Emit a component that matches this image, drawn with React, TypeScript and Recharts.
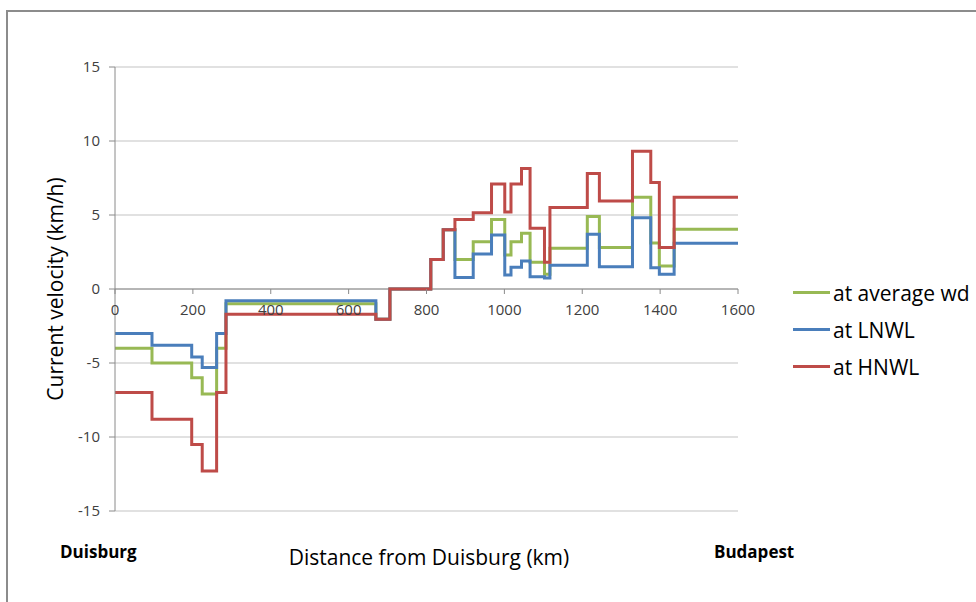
import { CartesianGrid, Legend, Line, LineChart, ReferenceDot, ReferenceLine, XAxis, YAxis } from 'recharts';

// step breakpoints along the river (km from Duisburg)
const KM = [0, 95, 197, 224, 261, 285, 670, 706, 811, 843, 873, 920, 967, 1001, 1017, 1044, 1066, 1103, 1117, 1213, 1244, 1329, 1376, 1398, 1436, 1600];
const AVG_WD = [-4, -5, -6, -7.1, -4, -1.0, -2.05, 0, 2, 4, 2.0, 3.2, 4.7, 2.3, 3.2, 3.76, 1.8, 1.0, 2.75, 4.9, 2.8, 6.2, 3.1, 1.55, 4.03, 4.03];
const LNWL = [-3, -3.8, -4.6, -5.3, -3.0, -0.8, -2.05, 0, 2, 4, 0.77, 2.37, 3.65, 0.95, 1.47, 1.9, 0.83, 0.75, 1.6, 3.7, 1.5, 4.82, 1.44, 1.0, 3.09, 3.09];
const HNWL = [-7, -8.8, -10.5, -12.3, -7, -1.7, -2.05, 0, 2, 4, 4.7, 5.15, 7.1, 5.2, 7.1, 8.15, 4.1, 1.8, 5.5, 7.8, 5.95, 9.3, 7.2, 2.8, 6.2, 6.2];

const X_TICKS = [0, 200, 400, 600, 800, 1000, 1200, 1400, 1600];
const Y_TICKS = [-15, -10, -5, 0, 5, 10, 15];

const SERIES = [
  { key: 'avg', name: 'at average wd', color: '#98B954' },
  { key: 'lnwl', name: 'at LNWL', color: '#4A7EBB' },
  { key: 'hnwl', name: 'at HNWL', color: '#BE4B48' },
];

const data = KM.map((km, i) => ({ km, avg: AVG_WD[i], lnwl: LNWL[i], hnwl: HNWL[i] }));

const W = 976;
const H = 602;
const PLOT_TOP = 67;
const PLOT_H = 444;
const Y_AXIS_W = 60;
const FONT = '"Open Sans", sans-serif';
const AXIS = '#8a8a8a';
const GRID = '#c3c3c3';

// the x axis crosses at y = 0, so its ticks sit on the zero line
function ZeroTick({ cx, cy, value }: any) {
  return (
    <g>
      <line x1={cx} x2={cx} y1={cy} y2={cy + 5} stroke={AXIS} />
      <text x={cx} y={cy + 26} textAnchor="middle" fontSize={15} fill="#404040" fontFamily={FONT}>
        {value}
      </text>
    </g>
  );
}

function LegendBox() {
  return (
    <div style={{ fontFamily: FONT, fontSize: 21, color: '#000' }}>
      {SERIES.map((s) => (
        <div key={s.key} style={{ display: 'flex', alignItems: 'center', height: 37 }}>
          <span style={{ width: 37, height: 3, background: s.color, marginRight: 3 }} />
          <span>{s.name}</span>
        </div>
      ))}
    </div>
  );
}

export default function App() {
  return (
    <div style={{ position: 'relative', width: W, height: H, overflow: 'hidden', background: '#fff' }}>
      <style>{'body{margin:0}'}</style>
      <div
        style={{
          position: 'absolute',
          left: 6,
          top: 10,
          width: 1100,
          height: 800,
          border: '2px solid #8c8c8c',
        }}
      />
      <LineChart
        width={W}
        height={H}
        data={data}
        margin={{ top: PLOT_TOP, right: W - 738, bottom: H - PLOT_TOP - PLOT_H, left: 115 - Y_AXIS_W }}
        style={{ position: 'absolute', left: 0, top: 0 }}
      >
        <CartesianGrid vertical={false} stroke={GRID} />
        <XAxis dataKey="km" type="number" domain={[0, 1600]} ticks={X_TICKS} hide />
        <YAxis
          type="number"
          domain={[-15, 15]}
          ticks={Y_TICKS}
          width={Y_AXIS_W}
          stroke={AXIS}
          tickSize={6}
          tickMargin={9}
          tick={{ fontSize: 15, fill: '#404040', fontFamily: FONT }}
        />
        <ReferenceLine y={0} stroke={AXIS} />
        {SERIES.map((s) => (
          <Line
            key={s.key}
            dataKey={s.key}
            name={s.name}
            type="stepAfter"
            stroke={s.color}
            strokeWidth={3}
            dot={false}
            activeDot={false}
            isAnimationActive={false}
          />
        ))}
        {X_TICKS.map((t) => (
          <ReferenceDot
            key={t}
            x={t}
            y={0}
            r={0}
            ifOverflow="visible"
            shape={(p: any) => <ZeroTick cx={p.cx} cy={p.cy} value={t} />}
          />
        ))}
        <Legend
          layout="vertical"
          align="center"
          verticalAlign="middle"
          content={<LegendBox />}
          wrapperStyle={{ left: 793, top: 274, width: 183 }}
        />
      </LineChart>
      <div
        style={{
          position: 'absolute',
          left: 55,
          top: 289,
          transform: 'translate(-50%, -50%) rotate(-90deg)',
          whiteSpace: 'nowrap',
          fontFamily: FONT,
          fontSize: 21,
        }}
      >
        Current velocity (km/h)
      </div>
      <div style={{ position: 'absolute', left: 60, top: 540, fontFamily: FONT, fontSize: 17, fontWeight: 700 }}>
        Duisburg
      </div>
      <div style={{ position: 'absolute', left: 714, top: 540, fontFamily: FONT, fontSize: 17, fontWeight: 700 }}>
        Budapest
      </div>
      <div
        style={{
          position: 'absolute',
          left: 429,
          top: 557,
          transform: 'translate(-50%, -50%)',
          whiteSpace: 'nowrap',
          fontFamily: FONT,
          fontSize: 21,
        }}
      >
        Distance from Duisburg (km)
      </div>
    </div>
  );
}
